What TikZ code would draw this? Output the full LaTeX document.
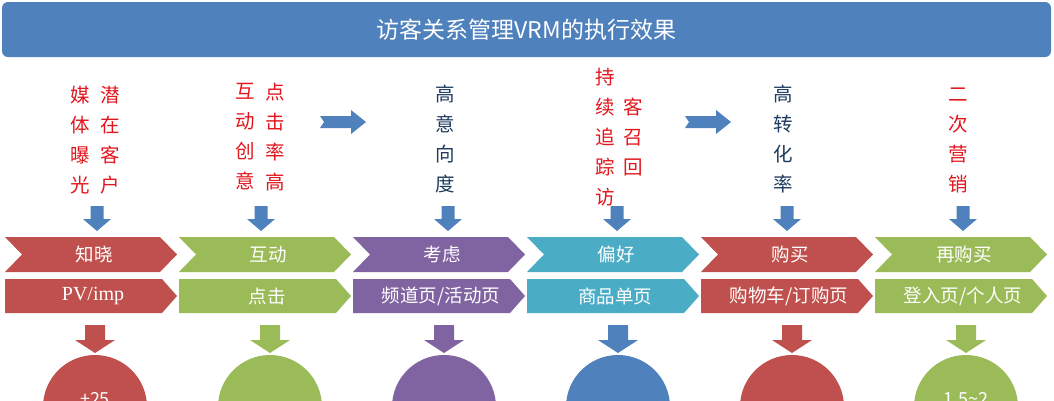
\documentclass[tikz,border=0pt]{standalone}
\usepackage{fontspec}
\setmainfont{Liberation Serif}
\newfontfamily\cjk{Noto Sans CJK SC}
\definecolor{tblue}{HTML}{4F81BD}
\definecolor{tred}{HTML}{C0504D}
\definecolor{tgreen}{HTML}{9BBB59}
\definecolor{tpurple}{HTML}{8064A2}
\definecolor{tteal}{HTML}{4BACC6}
\definecolor{tdark}{HTML}{1F3B5F}
\definecolor{tredtxt}{HTML}{E3161D}
\tikzset{
  lbl/.style={text=white, inner sep=0pt, font=\cjk\fontsize{18.5}{18.5}\selectfont},
  coltxt/.style={inner sep=0pt, align=center, font=\cjk\fontsize{19.5}{30}\selectfont},
  circtxt/.style={text=white, inner sep=0pt, font=\cjk\fontsize{18}{18}\selectfont},
}
% chevron pair: index, colour, name, row1 text, row2 text
\newcommand\chevpair[5]{%
  \pgfmathsetmacro\xa{5+174*#1}%
  \fill[#2] (\xa,237) -- (\xa+155,237) -- (\xa+172,254.5) -- (\xa+155,272) -- (\xa,272) -- (\xa+17,254.5) -- cycle;
  \node[lbl] (#3a) at (\xa+89,254.5) {#4};
  \fill[#2] (\xa,279) -- (\xa+157,279) -- (\xa+172,296) -- (\xa+157,313) -- (\xa,313) -- cycle;
  \node[lbl] (#3b) at (\xa+88,296) {#5};
}
% down block arrow: centre x, top y, shaft half width, head half width, shaft length, head length, colour
\newcommand\downarr[7]{%
  \fill[#7] (#1-#3,#2) -- (#1+#3,#2) -- (#1+#3,#2+#5) -- (#1+#4,#2+#5) -- (#1,#2+#5+#6) -- (#1-#4,#2+#5) -- (#1-#3,#2+#5) -- cycle;
}
% right block arrow: left x, centre y
\newcommand\rightarr[2]{%
  \fill[tblue] (#1,#2-6) -- (#1+31,#2-6) -- (#1+31,#2-12) -- (#1+46,#2) -- (#1+31,#2+12) -- (#1+31,#2+6) -- (#1,#2+6) -- (#1+4,#2) -- cycle;
}
\begin{document}
\begin{tikzpicture}[x=1pt,y=-1pt]
\useasboundingbox (0,0) rectangle (1054,400);
\clip (0,0) rectangle (1054,400);
\fill[white] (0,0) rectangle (1054,400);

% title
\node[fill=tblue, rounded corners=6pt, minimum width=1049pt, minimum height=55pt, inner sep=0pt,
      text=white, font=\cjk\fontsize{23}{23}\selectfont] (title) at (526.5,29.5) {访客关系管理VRM的执行效果};

% column texts
\node[coltxt, text=tredtxt] (c1a) at (80,140) {媒\\体\\曝\\光};
\node[coltxt, text=tredtxt] (c1b) at (110,140) {潜\\在\\客\\户};
\node[coltxt, text=tredtxt] (c2a) at (245,137) {互\\动\\创\\意};
\node[coltxt, text=tredtxt] (c2b) at (275,137) {点\\击\\率\\高};
\node[coltxt, text=tdark] (c3) at (445,139) {高\\意\\向\\度};
\node[coltxt, text=tredtxt] (c4a) at (605,137) {持\\续\\追\\踪\\访};
\node[coltxt, text=tredtxt] (c4b) at (633,137) {客\\召\\回};
\node[coltxt, text=tdark] (c5) at (783,139) {高\\转\\化\\率};
\node[coltxt, text=tredtxt] (c6) at (958,140) {二\\次\\营\\销};

% right arrows
\rightarr{320}{122}
\rightarr{685}{122}

% top down arrows
\downarr{97}{206}{6.5}{14}{13}{12}{tblue}
\downarr{261}{206}{6.5}{14}{13}{12}{tblue}
\downarr{448}{206}{6.5}{14}{13}{12}{tblue}
\downarr{617}{206}{6.5}{14}{13}{12}{tblue}
\downarr{787}{206}{6.5}{14}{13}{12}{tblue}
\downarr{963}{206}{6.5}{14}{13}{12}{tblue}

% chevrons
\chevpair{0}{tred}{k1}{知晓}{\rmfamily\fontsize{20}{20}\selectfont PV/imp}
\chevpair{1}{tgreen}{k2}{互动}{点击}
\chevpair{2}{tpurple}{k3}{考虑}{频道页/活动页}
\chevpair{3}{tteal}{k4}{偏好}{商品单页}
\chevpair{4}{tred}{k5}{购买}{购物车/订购页}
\chevpair{5}{tgreen}{k6}{再购买}{登入页/个人页}

% bottom arrows
\downarr{95}{325}{10}{20}{15}{13}{tred}
\downarr{270}{325}{10}{20}{15}{13}{tgreen}
\downarr{444}{325}{10}{20}{15}{13}{tpurple}
\downarr{618}{325}{10}{20}{15}{13}{tblue}
\downarr{792}{325}{10}{20}{15}{13}{tred}
\downarr{966}{325}{10}{20}{15}{13}{tgreen}

% circles
\node[circle, fill=tred, minimum size=104pt, inner sep=0pt] (o1) at (95,407) {};
\node[circle, fill=tgreen, minimum size=104pt, inner sep=0pt] (o2) at (270,407) {};
\node[circle, fill=tpurple, minimum size=104pt, inner sep=0pt] (o3) at (444,407) {};
\node[circle, fill=tblue, minimum size=104pt, inner sep=0pt] (o4) at (618,407) {};
\node[circle, fill=tred, minimum size=104pt, inner sep=0pt] (o5) at (792,407) {};
\node[circle, fill=tgreen, minimum size=104pt, inner sep=0pt] (o6) at (966,407) {};
\node[circtxt] (t1) at (95,399) {+25};
\node[circtxt] (t6) at (966,399) {1.5\textasciitilde2};
\end{tikzpicture}
\end{document}
